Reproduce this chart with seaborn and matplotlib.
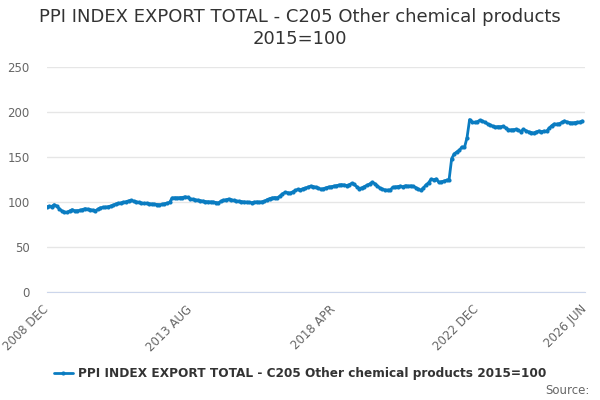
import numpy as np
import pandas as pd
import matplotlib
matplotlib.use("Agg")
import matplotlib.pyplot as plt
import seaborn as sns

# monthly values, 2008 DEC onwards
values = [
    94.4, 95.3, 95.0, 97.0, 95.5, 92.5, 90.0, 88.8, 88.5, 90.0,
    91.5, 90.2, 90.4, 90.6, 91.6, 92.6, 92.0, 91.5, 91.0, 90.2,
    91.8, 93.5, 94.0, 94.3, 94.8, 95.5, 96.5, 97.8, 98.5, 99.0,
    99.7, 100.3, 101.3, 101.8, 100.9, 100.2, 99.5, 98.9, 98.5, 98.6,
    98.1, 97.8, 97.4, 97.2, 97.0, 97.3, 98.0, 98.8, 99.5, 104.5,
    104.8, 104.6, 104.9, 105.0, 105.8, 105.2, 103.6, 103.0, 102.5, 102.0,
    101.5, 101.0, 100.5, 100.3, 100.1, 100.0, 99.4, 98.9, 100.8, 101.9,
    102.5, 103.2, 102.6, 101.7, 101.1, 100.8, 100.5, 100.1, 99.8, 99.6,
    99.3, 99.7, 100.2, 99.8, 100.3, 100.8, 102.5, 103.8, 104.5, 105.0,
    104.6, 106.5, 109.0, 110.6, 110.4, 109.8, 111.3, 112.8, 114.0, 113.6,
    114.8, 115.5, 116.6, 117.6, 117.2, 116.5, 115.3, 114.2, 114.8, 115.8,
    116.6, 117.0, 117.6, 118.2, 118.8, 119.3, 119.0, 118.3, 119.2, 120.6,
    119.5, 117.0, 115.0, 115.8, 117.2, 118.5, 120.0, 122.0, 120.4, 117.8,
    115.6, 114.2, 113.4, 113.2, 113.3, 116.2, 116.8, 117.2, 117.6, 117.0,
    118.2, 117.5, 118.0, 117.4, 116.0, 114.2, 113.0, 115.8, 119.0, 121.5,
    125.4, 124.8, 125.6, 121.9, 122.5, 123.2, 124.2, 124.9, 148.2, 153.5,
    155.6, 157.5, 161.1, 160.6, 171.6, 191.6, 188.8, 188.4, 189.2, 190.8,
    189.9, 188.5, 186.8, 185.6, 184.2, 183.4, 183.8, 183.6, 184.1, 182.6,
    180.5, 180.1, 180.4, 180.6, 179.8, 178.3, 180.8, 179.2, 177.9, 177.2,
    176.7, 177.8, 178.9, 178.2, 178.8, 178.6, 182.0, 184.8, 186.7, 186.4,
    187.1, 188.4, 190.0, 188.8, 188.2, 187.8, 188.3, 188.5, 188.9, 190.0,
]
months = pd.period_range("2008-12", periods=len(values), freq="M")

tick_step = 14
tick_labels = ["2008 DEC", "2013 AUG", "2018 APR", "2022 DEC", "2026 JUN"]
label_pos = [0, 56, 112, 168, 210]
y_ticks = [0, 50, 100, 150, 200, 250]

series_name = "PPI INDEX EXPORT TOTAL - C205 Other chemical products 2015=100"
title = "PPI INDEX EXPORT TOTAL - C205 Other chemical products\n2015=100"

df = pd.DataFrame({"idx": np.arange(len(values)), "value": values})

sns.set_style("white")
plt.rcParams["font.family"] = ["DejaVu Sans"]

fig = plt.figure(figsize=(6, 4), dpi=100)
ax = fig.add_axes([0.0775, 0.27, 0.8975, 0.5625])

sns.lineplot(data=df, x="idx", y="value", ax=ax, color="#0a7cc1", linewidth=2,
             marker="o", markersize=3, markeredgewidth=0, label=series_name)

ax.set_xlim(0, 210)
ax.set_ylim(0, 250)
ax.set_yticks(y_ticks)
ax.set_yticklabels([str(v) for v in y_ticks], color="#666666", fontsize=8.5)
ax.yaxis.grid(True, color="#e6e6e6", linewidth=1)
ax.set_axisbelow(True)
ax.tick_params(axis="y", length=0, pad=12)

ax.set_xticks(np.arange(0, 211, tick_step))
ax.set_xticklabels([tick_labels[label_pos.index(p)] if p in label_pos else ""
                    for p in range(0, 211, tick_step)],
                   color="#666666", fontsize=8.5)
for lab in ax.get_xticklabels():
    lab.set_rotation(45)
    lab.set_rotation_mode("anchor")
    lab.set_ha("right")
    lab.set_va("center")
ax.tick_params(axis="x", length=10, width=1, color="#ccd6eb", pad=1)

for s in ["top", "right", "left"]:
    ax.spines[s].set_visible(False)
ax.spines["bottom"].set_color("#ccd6eb")
ax.set_xlabel("")
ax.set_ylabel("")

fig.suptitle(title, y=0.98, fontsize=13, color="#333333", linespacing=1.25)

ax.get_legend().remove()
handles, labels = ax.get_legend_handles_labels()
leg = fig.legend(handles, labels, loc="center", bbox_to_anchor=(0.5, 0.065),
                 frameon=False, handlelength=1.6, fontsize=8.7, handletextpad=0.4)
for t in leg.get_texts():
    t.set_color("#333333")
    t.set_fontweight("bold")

fig.text(0.982, 0.025, "Source:", ha="right", va="center", fontsize=8.5, color="#666666")

fig.savefig("out.png", dpi=100)
